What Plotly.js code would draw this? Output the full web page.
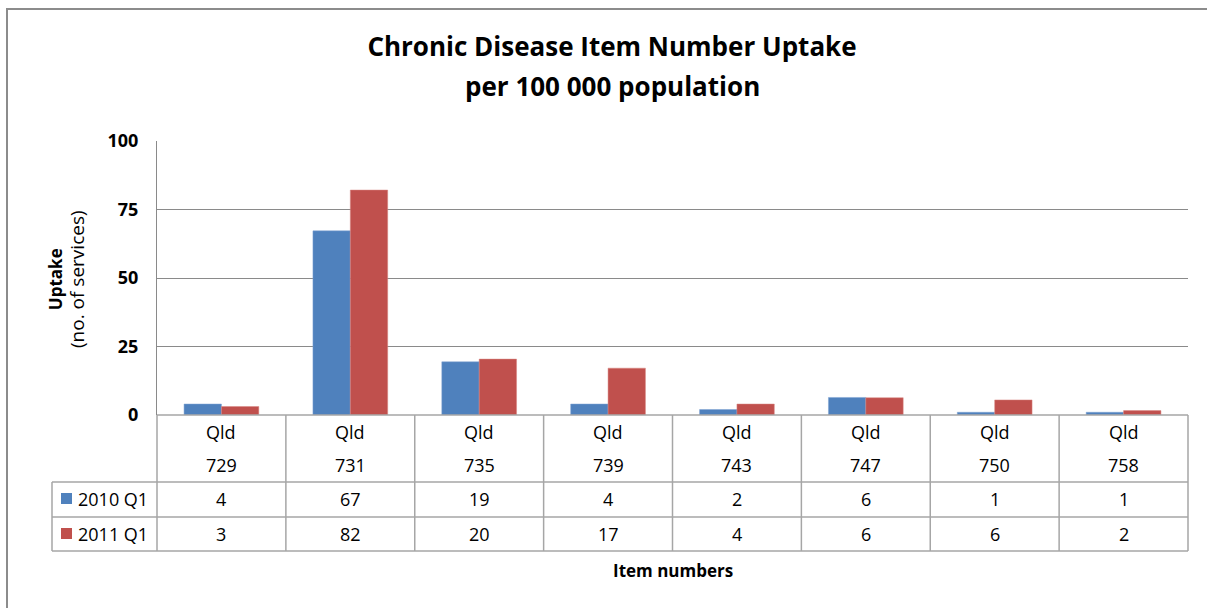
<!DOCTYPE html>
<html>
<head>
<meta charset="utf-8">
<script src="https://cdn.plot.ly/plotly-3.0.1.min.js"></script>
<style>html,body{margin:0;padding:0;background:#fff;}#chart{width:1207px;height:608px;}</style>
</head>
<body>
<div id="chart"></div>
<script>
// ---- data ----
var region = "Qld";
var items = ["729", "731", "735", "739", "743", "747", "750", "758"];
var seriesNames = ["2010 Q1", "2011 Q1"];
var uptake2010 = [4.0, 67.2, 19.4, 4.0, 2.0, 6.4, 1.0, 1.0];
var uptake2011 = [3.1, 82.1, 20.4, 17.1, 4.0, 6.3, 5.5, 1.6];
var tableRow2010 = ["4", "67", "19", "4", "2", "6", "1", "1"];
var tableRow2011 = ["3", "82", "20", "17", "4", "6", "6", "2"];
var yTicks = [0, 25, 50, 75, 100];
var titleLine1 = "Chronic Disease Item Number Uptake";
var titleLine2 = "per 100 000 population";

var colors = ["#4F81BD", "#C0504D"];
var W = 1207, H = 608;
var L = 157, R = 1188, T = 141, B = 415;
var pw = R - L, ph = B - T;
function px(x) { return (x - L) / pw; }
function py(y) { return (B - y) / ph; }

var font = "'Open Sans', sans-serif";

var traces = [
  {type: "bar", x: items, y: uptake2010, name: seriesNames[0],
   marker: {color: colors[0], line: {color: "#7FA3D3", width: 0.5}}, hoverinfo: "y"},
  {type: "bar", x: items, y: uptake2011, name: seriesNames[1],
   marker: {color: colors[1], line: {color: "#D88683", width: 0.5}}, hoverinfo: "y"}
];

var rowY = [415, 482, 517, 551];
var lineCol = "#A6A6A6";
var shapes = [];
var n = items.length;
// outer chart border
shapes.push({type: "rect", xref: "paper", yref: "paper",
  x0: px(7), x1: px(1230), y0: py(9), y1: py(640),
  line: {color: "#8C8C8C", width: 2}, fillcolor: "rgba(0,0,0,0)"});
// table horizontal lines
shapes.push({type: "line", xref: "paper", yref: "paper", x0: 0, x1: 1, y0: py(rowY[0]), y1: py(rowY[0]), line: {color: lineCol, width: 1.5}});
for (var r = 1; r < rowY.length; r++) {
  shapes.push({type: "line", xref: "paper", yref: "paper", x0: px(52), x1: 1,
    y0: py(rowY[r]), y1: py(rowY[r]), line: {color: lineCol, width: 1.5}});
}
// table vertical lines
for (var i = 0; i <= n; i++) {
  shapes.push({type: "line", xref: "paper", yref: "paper", x0: i / n, x1: i / n,
    y0: py(rowY[0]), y1: py(rowY[3]), line: {color: lineCol, width: 1.5}});
}
shapes.push({type: "line", xref: "paper", yref: "paper", x0: px(52), x1: px(52),
  y0: py(rowY[1]), y1: py(rowY[3]), line: {color: lineCol, width: 1.5}});
// legend keys
var keyY = [[493, 504], [528, 539]];
for (var s = 0; s < 2; s++) {
  shapes.push({type: "rect", xref: "paper", yref: "paper", x0: px(61), x1: px(72),
    y0: py(keyY[s][1]), y1: py(keyY[s][0]), fillcolor: colors[s], line: {width: 0}});
}

var annotations = [];
var tfont = {family: font, size: 18, color: "#000"};
function ann(o) { o.showarrow = false; if (!o.xanchor) o.xanchor = "center"; o.yanchor = "middle"; annotations.push(o); }
for (var i = 0; i < n; i++) {
  ann({xref: "x", yref: "paper", x: i, y: py(432), text: region, font: tfont});
  ann({xref: "x", yref: "paper", x: i, y: py(465), text: items[i], font: tfont});
  ann({xref: "x", yref: "paper", x: i, y: py(499), text: tableRow2010[i], font: tfont});
  ann({xref: "x", yref: "paper", x: i, y: py(534), text: tableRow2011[i], font: tfont});
}
ann({xref: "paper", yref: "paper", x: px(76), y: py(499), xanchor: "left", text: seriesNames[0], font: tfont});
ann({xref: "paper", yref: "paper", x: px(76), y: py(534), xanchor: "left", text: seriesNames[1], font: tfont});
// title line 2
ann({xref: "paper", yref: "paper", x: px(612), y: py(86), text: "<b>" + titleLine2 + "</b>", font: {family: font, size: 26, color: "#000"}});
// axis titles
ann({xref: "paper", yref: "paper", x: 0.5, y: py(570), text: "<b>Item numbers</b>", font: {family: font, size: 17, color: "#000"}});
ann({xref: "paper", yref: "paper", x: px(67), y: py(279), text: "<b>Uptake</b><br><span style='font-size:19px'>(no. of services)</span>", textangle: -90, font: {family: font, size: 17, color: "#000"}});

var layout = {
  width: W, height: H,
  margin: {l: L, r: W - R, t: T, b: H - B, pad: 0},
  paper_bgcolor: "#fff", plot_bgcolor: "#fff",
  showlegend: false,
  title: {text: "<b>" + titleLine1 + "</b>",
    x: 612 / W, xref: "container", xanchor: "center", y: 1 - 47 / H, yanchor: "middle",
    font: {family: font, size: 26, color: "#000"}},
  barmode: "group", bargap: 0.42, bargroupgap: 0,
  xaxis: {type: "category", range: [-0.5, n - 0.5], showticklabels: false, showgrid: false,
    zeroline: false, showline: false, ticks: "", fixedrange: true},
  yaxis: {range: [0, 100], tickvals: yTicks, ticktext: yTicks.map(String), showgrid: true,
    gridcolor: "#8A8A8A", gridwidth: 1, zeroline: false, showline: true, linecolor: "#8A8A8A", linewidth: 1,
    ticks: "", ticklabelstandoff: 14, tickfont: {family: font, size: 18, color: "#000", weight: "bold"}, fixedrange: true},
  shapes: shapes,
  annotations: annotations
};

Plotly.newPlot("chart", traces, layout, {displayModeBar: false, staticPlot: true});
</script>
</body>
</html>
